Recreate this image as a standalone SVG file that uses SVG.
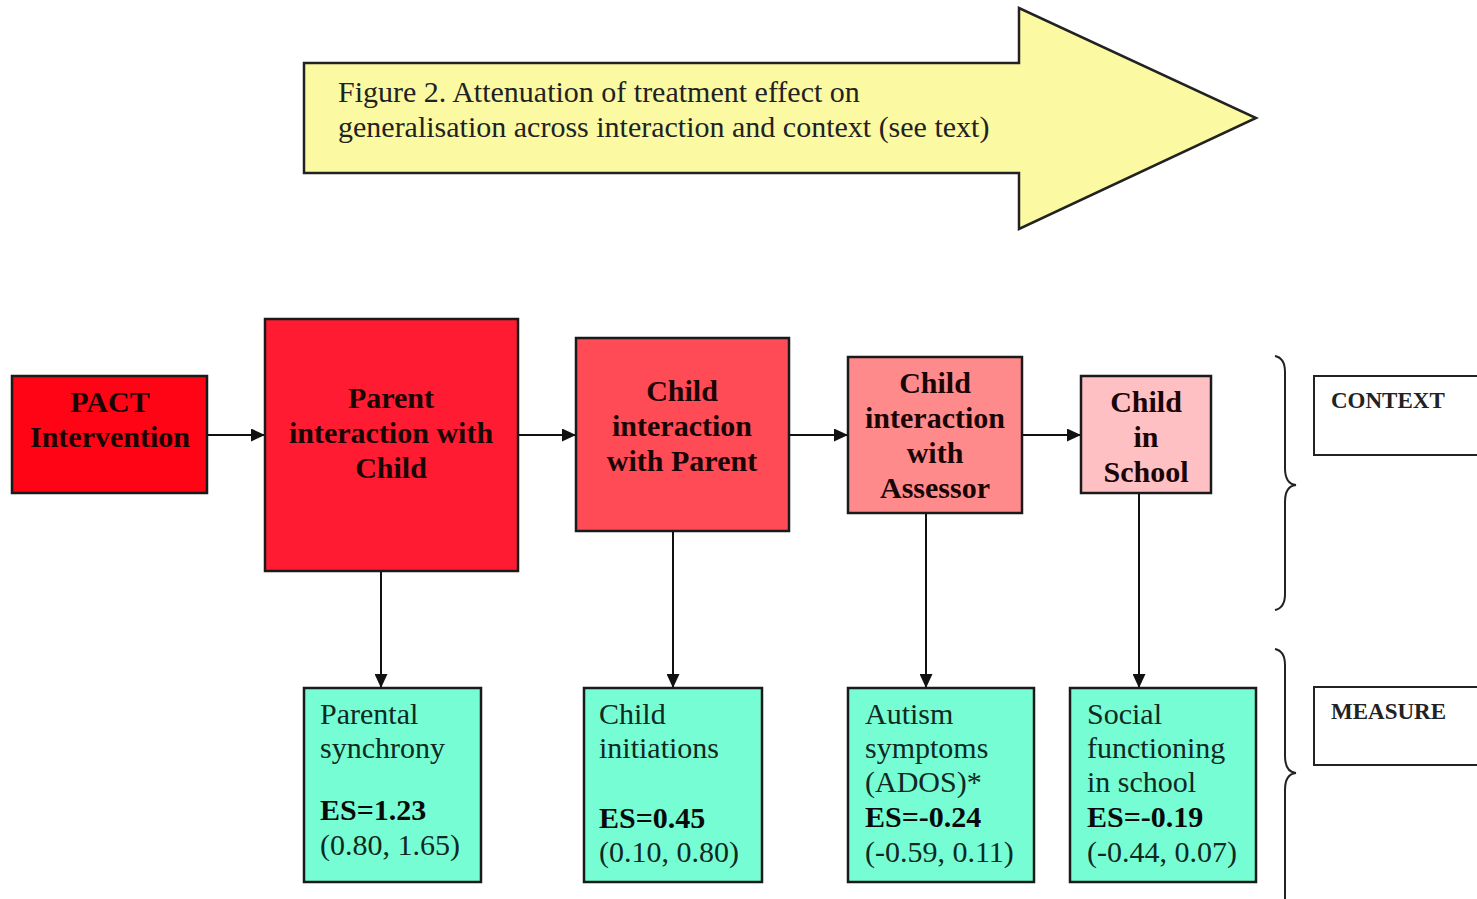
<svg xmlns="http://www.w3.org/2000/svg" width="1477" height="899" viewBox="0 0 1477 899">
<defs>
<style>
.box{stroke:#1a1a1a;stroke-width:2.5}
.ctx{font-family:"Liberation Serif",serif;font-weight:bold;font-size:30px;fill:#1a0505;text-anchor:middle}
.ms{font-family:"Liberation Serif",serif;font-size:30px;fill:#102a22}
.msb{font-weight:bold;fill:#0a0a0a}
.lbl{font-family:"Liberation Serif",serif;font-weight:bold;font-size:23px;fill:#222}
.ttl{font-family:"Liberation Serif",serif;font-size:30px;fill:#222}
.conn{stroke:#111;stroke-width:2;fill:none}
.brace{stroke:#222;stroke-width:2;fill:none}
</style>
<marker id="ah" viewBox="0 0 14 13" refX="14" refY="6.5" markerWidth="14" markerHeight="13" markerUnits="userSpaceOnUse" orient="auto">
<path d="M0,0 L14,6.5 L0,13 Z" fill="#111"/>
</marker>
</defs>
<rect width="1477" height="899" fill="#fff"/>

<g id="title">
<path d="M304,63 L1019,63 L1019,8 L1256,118 L1019,229 L1019,173 L304,173 Z" fill="#fbfaa2" stroke="#222" stroke-width="2.5"/>
<text class="ttl" x="338" y="102">Figure 2. Attenuation of treatment effect on</text>
<text class="ttl" x="338" y="137">generalisation across interaction and context (see text)</text>
</g>

<g id="connectors">
<line class="conn" x1="207" y1="435" x2="265" y2="435" marker-end="url(#ah)"/>
<line class="conn" x1="518" y1="435" x2="576" y2="435" marker-end="url(#ah)"/>
<line class="conn" x1="789" y1="435" x2="848" y2="435" marker-end="url(#ah)"/>
<line class="conn" x1="1022" y1="435" x2="1081" y2="435" marker-end="url(#ah)"/>
<line class="conn" x1="381" y1="571" x2="381" y2="688" marker-end="url(#ah)"/>
<line class="conn" x1="673" y1="531" x2="673" y2="688" marker-end="url(#ah)"/>
<line class="conn" x1="926" y1="513" x2="926" y2="688" marker-end="url(#ah)"/>
<line class="conn" x1="1139" y1="493" x2="1139" y2="688" marker-end="url(#ah)"/>
</g>

<g id="pact">
<rect class="box" x="12" y="376" width="195" height="117" fill="#fe0414"/>
<text class="ctx" x="110" y="412">PACT</text>
<text class="ctx" x="110" y="447">Intervention</text>
</g>
<g id="parent-interaction">
<rect class="box" x="265" y="319" width="253" height="252" fill="#ff1c32"/>
<text class="ctx" x="391" y="408">Parent</text>
<text class="ctx" x="391" y="443">interaction with</text>
<text class="ctx" x="391" y="478">Child</text>
</g>
<g id="child-parent">
<rect class="box" x="576" y="338" width="213" height="193" fill="#ff4b55"/>
<text class="ctx" x="682" y="401">Child</text>
<text class="ctx" x="682" y="436">interaction</text>
<text class="ctx" x="682" y="471">with Parent</text>
</g>
<g id="child-assessor">
<rect class="box" x="848" y="357" width="174" height="156" fill="#ff8a8c"/>
<text class="ctx" x="935" y="393">Child</text>
<text class="ctx" x="935" y="428">interaction</text>
<text class="ctx" x="935" y="463">with</text>
<text class="ctx" x="935" y="498">Assessor</text>
</g>
<g id="child-school">
<rect class="box" x="1081" y="376" width="130" height="117" fill="#ffc0c4"/>
<text class="ctx" x="1146" y="412">Child</text>
<text class="ctx" x="1146" y="447">in</text>
<text class="ctx" x="1146" y="482">School</text>
</g>

<g id="parental-synchrony">
<rect class="box" x="304" y="688" width="177" height="194" fill="#76fdd4"/>
<text class="ms" x="320" y="724">Parental</text>
<text class="ms" x="320" y="758">synchrony</text>
<text class="ms msb" x="320" y="820">ES=1.23</text>
<text class="ms" x="320" y="855">(0.80, 1.65)</text>
</g>
<g id="child-initiations">
<rect class="box" x="584" y="688" width="178" height="194" fill="#76fdd4"/>
<text class="ms" x="599" y="724">Child</text>
<text class="ms" x="599" y="758">initiations</text>
<text class="ms msb" x="599" y="828">ES=0.45</text>
<text class="ms" x="599" y="862">(0.10, 0.80)</text>
</g>
<g id="autism-symptoms">
<rect class="box" x="848" y="688" width="186" height="194" fill="#76fdd4"/>
<text class="ms" x="865" y="724">Autism</text>
<text class="ms" x="865" y="758">symptoms</text>
<text class="ms" x="865" y="792">(ADOS)*</text>
<text class="ms msb" x="865" y="827">ES=-0.24</text>
<text class="ms" x="865" y="862">(-0.59, 0.11)</text>
</g>
<g id="social-functioning">
<rect class="box" x="1070" y="688" width="186" height="194" fill="#76fdd4"/>
<text class="ms" x="1087" y="724">Social</text>
<text class="ms" x="1087" y="758">functioning</text>
<text class="ms" x="1087" y="792">in school</text>
<text class="ms msb" x="1087" y="827">ES=-0.19</text>
<text class="ms" x="1087" y="862">(-0.44, 0.07)</text>
</g>

<g id="context-label">
<path class="brace" d="M1275,356 Q1285,358 1285,372 L1285,468 Q1285,484 1296,485 Q1285,486 1285,502 L1285,594 Q1285,608 1275,610"/>
<rect x="1314" y="376" width="170" height="79" fill="#fff" stroke="#222" stroke-width="2"/>
<text class="lbl" x="1331" y="408">CONTEXT</text>
</g>
<g id="measure-label">
<path class="brace" d="M1275,649 Q1285,651 1285,665 L1285,756 Q1285,772 1296,773 Q1285,774 1285,790 L1285,899"/>
<rect x="1314" y="687" width="170" height="78" fill="#fff" stroke="#222" stroke-width="2"/>
<text class="lbl" x="1331" y="719">MEASURE</text>
</g>
</svg>
